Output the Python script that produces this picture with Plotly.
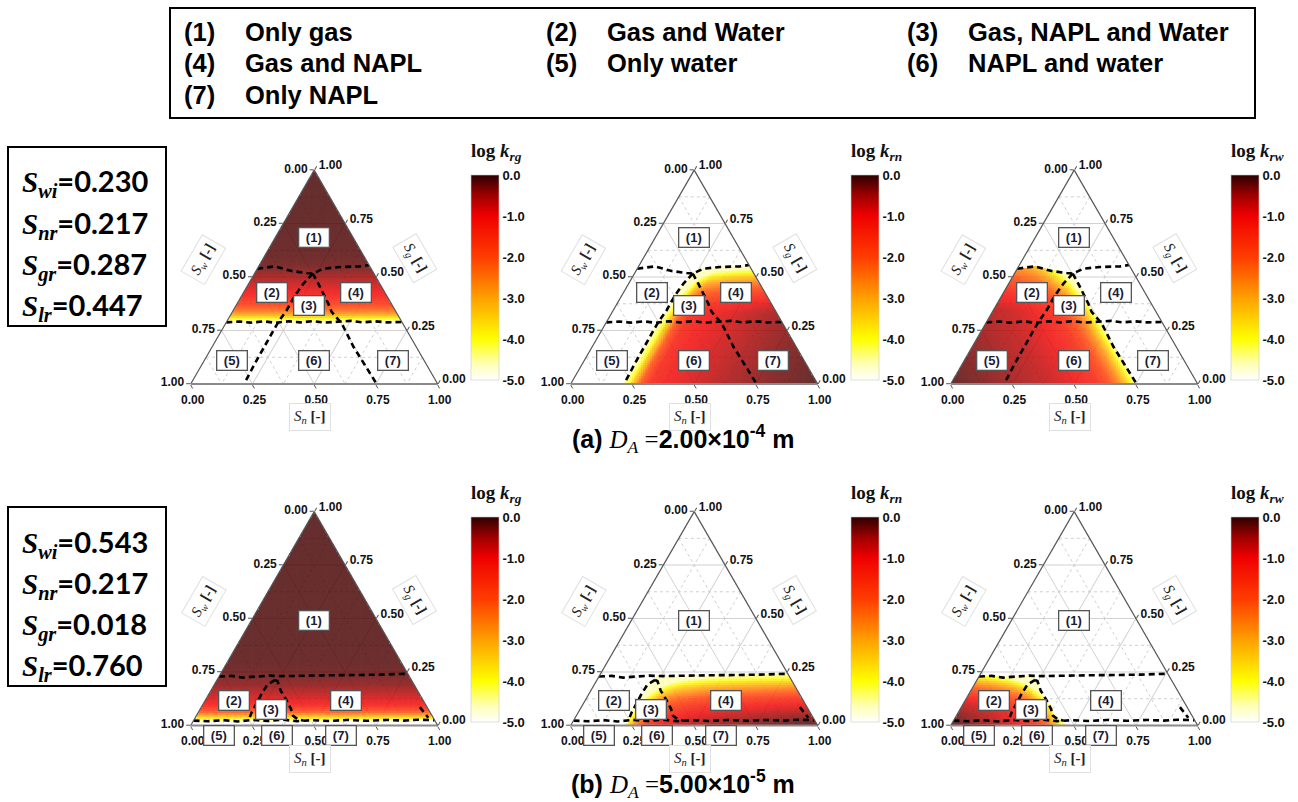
import numpy as np
import plotly.graph_objects as go

FIG_W, FIG_H = 1298, 802

# ---------------------------------------------------------------- values
SAT_NAMES = ["wi", "nr", "gr", "lr"]
SAT_A = [0.230, 0.217, 0.287, 0.447]
SAT_B = [0.543, 0.217, 0.018, 0.760]

CASE_TAGS = ["(a)", "(b)"]
DIAM_MANTISSA = ["2.00", "5.00"]
DIAM_EXPONENT = ["-4", "-5"]

REGION_TAGS = ["(1)", "(2)", "(3)", "(4)", "(5)", "(6)", "(7)"]
REGION_NAMES = ["Only gas", "Gas and Water", "Gas, NAPL and Water",
                "Gas and NAPL", "Only water", "NAPL and water", "Only NAPL"]

PHASE_SUB = ["rg", "rn", "rw"]

TICK_VALS = [0.0, 0.25, 0.5, 0.75, 1.0]
TICK_TEXT = ["1.00", "0.75", "0.50", "0.25", "0.00"]
MINOR_VALS = [0.125, 0.375, 0.625, 0.875]
CBAR_VALS = [0, -1, -2, -3, -4, -5]
CBAR_TEXT = ["0.0", "-1.0", "-2.0", "-3.0", "-4.0", "-5.0"]

# phase-region boundaries, case (a)
UPPER_A_SN = [0.0, 0.066, 0.145, 0.21, 0.236, 0.268, 0.331, 0.411, 0.444]
UPPER_A_SG = [0.539, 0.550, 0.528, 0.519, 0.516, 0.539, 0.547, 0.550, 0.556]
LOWER_A_SN = [0.0, 0.05, 0.1, 0.15, 0.2, 0.25, 0.3, 0.35, 0.4, 0.45, 0.5, 0.55, 0.6, 0.65, 0.71]
LOWER_A_SG = [0.288, 0.292, 0.287, 0.293, 0.286, 0.293, 0.288, 0.294, 0.287, 0.291, 0.295, 0.288, 0.293, 0.288, 0.290]
LEFT_A_SG = [0.516, 0.469, 0.415, 0.345, 0.290, 0.236, 0.166, 0.096, 0.0]
LEFT_A_SN = [0.236, 0.222, 0.215, 0.216, 0.210, 0.210, 0.211, 0.212, 0.216]
RIGHT_A_SG = [0.516, 0.469, 0.376, 0.337, 0.283, 0.174, 0.0]
RIGHT_A_SW = [0.248, 0.249, 0.255, 0.261, 0.247, 0.254, 0.247]

# phase-region boundaries, case (b)
UPPER_B_SN = [0.0, 0.05, 0.1, 0.15, 0.2, 0.26, 0.35, 0.45, 0.55, 0.65, 0.758]
UPPER_B_SG = [0.229, 0.232, 0.224, 0.229, 0.233, 0.231, 0.233, 0.235, 0.236, 0.238, 0.242]
LOWER_B_SN = [0.0, 0.06, 0.12, 0.18, 0.24, 0.3, 0.36, 0.42, 0.48, 0.55, 0.62, 0.7, 0.78, 0.85, 0.91, 0.975]
LOWER_B_SG = [0.023, 0.020, 0.025, 0.019, 0.026, 0.021, 0.027, 0.020, 0.025, 0.021, 0.026, 0.022, 0.026, 0.023, 0.027, 0.025]
LEFT_B_SG = [0.213, 0.191, 0.148, 0.104, 0.062, 0.023]
LEFT_B_SN = [0.235, 0.215, 0.213, 0.215, 0.216, 0.222]
RIGHT_B_SG = [0.213, 0.207, 0.163, 0.117, 0.078, 0.047, 0.030, 0.023]
RIGHT_B_SW = [0.552, 0.545, 0.554, 0.553, 0.555, 0.563, 0.553, 0.533]
EDGE_B_SN = [0.885, 0.944]
EDGE_B_SG = [0.086, 0.036]

# region tag anchors (S_n, S_g)
LABEL_A_SN = [0.158, 0.113, 0.297, 0.453, 0.110, 0.443, 0.762]
LABEL_A_SG = [0.683, 0.430, 0.365, 0.430, 0.112, 0.112, 0.112]
LABEL_B_SN = [0.253, 0.117, 0.286, 0.571, 0.139, 0.372, 0.634]
LABEL_B_SG = [0.493, 0.117, 0.076, 0.117, -0.047, -0.047, -0.047]

# log relative permeability profiles, case (a)
KRG_A_SG = [0.287, 0.295, 0.305, 0.32, 0.34, 0.37, 0.41, 0.45, 0.5, 0.55, 0.6, 0.75, 1.0]
KRG_A_LOG = [-4.8, -4.5, -4.0, -3.2, -2.5, -1.8, -1.2, -0.85, -0.5, -0.25, -0.16, -0.12, -0.1]
KRN_A_SN = [0.21, 0.23, 0.245, 0.26, 0.28, 0.32, 0.4, 0.5, 0.65, 0.8, 1.0]
KRN_A_LOG = [-4.6, -4.3, -3.6, -3.0, -2.1, -1.3, -1.0, -0.8, -0.5, -0.3, -0.1]
KRN_A_SG = [0.0, 0.33, 0.38, 0.43, 0.47, 0.5, 0.53, 0.56]
KRN_A_DLOG = [0.0, 0.0, -0.3, -0.9, -1.6, -2.4, -3.3, -4.2]
KRW_A_SW = [0.245, 0.26, 0.28, 0.31, 0.35, 0.4, 0.5, 0.6, 0.75, 0.9, 1.0]
KRW_A_LOG = [-4.6, -4.2, -3.5, -2.7, -2.0, -1.4, -0.95, -0.7, -0.45, -0.25, -0.1]
KRW_A_SG = [0.0, 0.35, 0.4, 0.45, 0.5, 0.56]
KRW_A_DLOG = [0.0, 0.0, -0.25, -0.6, -1.1, -1.7]

# log relative permeability profiles, case (b)
KRG_B_SG = [0.018, 0.025, 0.035, 0.05, 0.07, 0.1, 0.14, 0.19, 0.25, 0.3, 0.5, 1.0]
KRG_B_LOG = [-4.8, -4.4, -3.8, -2.9, -1.9, -1.1, -0.7, -0.38, -0.2, -0.14, -0.12, -0.1]
KRN_B_SN = [0.21, 0.225, 0.24, 0.26, 0.3, 0.35, 0.45, 0.6, 0.8, 1.0]
KRN_B_LOG = [-4.6, -4.0, -3.3, -2.5, -1.6, -1.1, -0.7, -0.45, -0.25, -0.1]
KRN_B_SG = [0.0, 0.03, 0.06, 0.1, 0.14, 0.18, 0.21, 0.24]
KRN_B_DLOG = [0.0, -0.1, -0.35, -0.8, -1.5, -2.4, -3.3, -4.2]
KRW_B_SW = [0.53, 0.55, 0.57, 0.6, 0.65, 0.72, 0.8, 0.9, 1.0]
KRW_B_LOG = [-4.6, -4.0, -3.2, -2.3, -1.5, -1.0, -0.65, -0.35, -0.1]
KRW_B_SG = [0.0, 0.05, 0.1, 0.14, 0.18, 0.21, 0.24]
KRW_B_DLOG = [0.0, -0.05, -0.3, -0.8, -1.6, -2.5, -3.5]

# ---------------------------------------------------------------- styling
HOT = [[0.0, "#ffffff"], [0.08, "#ffffb4"], [0.2, "#ffff00"], [0.4, "#ffa000"],
       [0.6, "#ff3c00"], [0.8, "#f00000"], [0.9, "#a00000"], [1.0, "#2d0000"]]
SANS = "Liberation Sans"
SERIF = "Liberation Serif"
TRI_W = 247.0
TRI_H = TRI_W * np.sqrt(3) / 2
COL_X0 = [190.7, 570.7, 950.7]
ROW_YB = [384.0, 725.5]
CB_TOP = [175.0, 517.0]
CB_LEN = 205
CB_DX = 280.0


def interp_sorted(x, xp, fp):
    xp = np.asarray(xp, float)
    fp = np.asarray(fp, float)
    order = np.argsort(xp)
    return np.interp(x, xp[order], fp[order])


def lattice(rows=100, cols=112):
    ii, kk = np.meshgrid(np.arange(rows), np.arange(cols), indexing="ij")
    sg = (ii + 0.5) / rows
    sn = (kk + 0.5) / cols - sg / 2
    sw = 1 - sg - sn
    keep = (sn > 0) & (sw > 0)
    return sg[keep], sn[keep], sw[keep]


SG, SN, SW = lattice()

BOUNDS = [
    dict(upper=(UPPER_A_SN, UPPER_A_SG), lower=(LOWER_A_SN, LOWER_A_SG),
         left=(LEFT_A_SG, LEFT_A_SN), right=(RIGHT_A_SG, RIGHT_A_SW), edge=None),
    dict(upper=(UPPER_B_SN, UPPER_B_SG), lower=(LOWER_B_SN, LOWER_B_SG),
         left=(LEFT_B_SG, LEFT_B_SN), right=(RIGHT_B_SG, RIGHT_B_SW),
         edge=(EDGE_B_SN, EDGE_B_SG)),
]
PROFILES = [
    [(KRG_A_SG, KRG_A_LOG), (KRN_A_SN, KRN_A_LOG, KRN_A_SG, KRN_A_DLOG),
     (KRW_A_SW, KRW_A_LOG, KRW_A_SG, KRW_A_DLOG)],
    [(KRG_B_SG, KRG_B_LOG), (KRN_B_SN, KRN_B_LOG, KRN_B_SG, KRN_B_DLOG),
     (KRW_B_SW, KRW_B_LOG, KRW_B_SG, KRW_B_DLOG)],
]
LABELS = [(LABEL_A_SN, LABEL_A_SG), (LABEL_B_SN, LABEL_B_SG)]
SATS = [SAT_A, SAT_B]


def field(row, phase):
    b = BOUNDS[row]
    p = PROFILES[row][phase]
    upper = SG < interp_sorted(SN, *b["upper"])
    if phase == 0:
        mask = SG > interp_sorted(SN, *b["lower"])
        val = interp_sorted(SG, *p)
    elif phase == 1:
        mask = (SN > interp_sorted(SG, *b["left"])) & upper
        val = interp_sorted(SN, p[0], p[1]) + interp_sorted(SG, p[2], p[3])
    else:
        mask = (SW > interp_sorted(SG, *b["right"])) & upper
        val = interp_sorted(SW, p[0], p[1]) + interp_sorted(SG, p[2], p[3])
    return mask, np.clip(val, -4.6, 0.0)


def to_paper(col, row, sn, sg):
    xpx = COL_X0[col] + (sn + sg / 2) * TRI_W
    ypx = ROW_YB[row] - sg * TRI_H
    return xpx / FIG_W, 1 - ypx / FIG_H


def boundary_line(sg, other, kind):
    sg = np.asarray(sg, float)
    other = np.asarray(other, float)
    if kind == "sn":
        sn = other
        sw = np.clip(1 - sg - sn, 0, 1)
    else:
        sw = other
        sn = np.clip(1 - sg - sw, 0, 1)
    return sg, sw, sn


def axis_cfg(line_color, line_width):
    return dict(
        tickmode="array", tickvals=TICK_VALS, ticktext=TICK_TEXT,
        ticks="outside", ticklen=4, tickcolor="#555", tickwidth=1,
        tickfont=dict(family=SANS, size=12, color="#111", weight="bold"),
        showgrid=True, gridcolor="#d2d2d2", gridwidth=1,
        showline=True, linecolor=line_color, linewidth=line_width,
        title=dict(text=""), layer="above traces", min=0,
    )


def paper_note(xpx, ypx, text, **kw):
    d = dict(x=xpx / FIG_W, y=1 - ypx / FIG_H, xref="paper", yref="paper",
             xanchor="center", yanchor="middle", showarrow=False, text=text)
    d.update(kw)
    return d


fig = go.Figure()
annotations = []
shapes = []
layout_ternaries = {}

for row in range(2):
    for col in range(3):
        idx = row * 3 + col + 1
        name = "ternary" if idx == 1 else f"ternary{idx}"
        x0 = COL_X0[col]
        yb = ROW_YB[row]
        layout_ternaries[name] = dict(
            domain=dict(x=[x0 / FIG_W, (x0 + TRI_W) / FIG_W],
                        y=[1 - yb / FIG_H, 1 - (yb - TRI_H) / FIG_H]),
            sum=1, bgcolor="white",
            aaxis=axis_cfg("#555", 1.2),
            baxis=axis_cfg("#8a8a8a", 2.0),
            caxis=axis_cfg("#555", 1.2),
        )

        # dotted minor grid
        ga, gb, gc = [], [], []
        for v in MINOR_VALS:
            ga += [v, v, None, 1 - v, 0, None, 1 - v, 0, None]
            gb += [1 - v, 0, None, v, v, None, 0, 1 - v, None]
            gc += [0, 1 - v, None, 0, 1 - v, None, v, v, None]
        fig.add_trace(go.Scatterternary(
            a=ga, b=gb, c=gc, mode="lines", subplot=name,
            line=dict(color="#cfcfcf", width=1, dash="dot"),
            hoverinfo="skip", showlegend=False))

        # relative permeability field
        mask, val = field(row, col)
        fig.add_trace(go.Scatterternary(
            a=SG[mask], b=SW[mask], c=SN[mask], mode="markers", subplot=name,
            opacity=0.82,
            marker=dict(symbol="square", size=2.9, line=dict(width=0),
                        color=val[mask], colorscale=HOT, cmin=-5, cmax=0,
                        showscale=True,
                        colorbar=dict(
                            x=(x0 + CB_DX) / FIG_W, xanchor="left", xpad=0,
                            y=1 - CB_TOP[row] / FIG_H, yanchor="top", ypad=0,
                            len=CB_LEN, lenmode="pixels",
                            thickness=28, thicknessmode="pixels",
                            tickmode="array", tickvals=CBAR_VALS, ticktext=CBAR_TEXT,
                            ticks="", ticklabelposition="outside",
                            tickfont=dict(family=SANS, size=13, color="#111", weight="bold"),
                            outlinewidth=0.6, outlinecolor="#c8c8c8")),
            hoverinfo="skip", showlegend=False))

        # dashed phase boundaries
        b = BOUNDS[row]
        lines = [
            boundary_line(b["upper"][1], b["upper"][0], "sn"),
            boundary_line(b["lower"][1], b["lower"][0], "sn"),
            boundary_line(b["left"][0], b["left"][1], "sn"),
            boundary_line(b["right"][0], b["right"][1], "sw"),
        ]
        if b["edge"] is not None:
            lines.append(boundary_line(b["edge"][1], b["edge"][0], "sn"))
        for la, lb, lc in lines:
            fig.add_trace(go.Scatterternary(
                a=la, b=lb, c=lc, mode="lines", subplot=name,
                line=dict(color="black", width=2.6, dash="6px,4px"),
                hoverinfo="skip", showlegend=False))

        # colorbar title
        annotations.append(paper_note(
            x0 + CB_DX - 2, CB_TOP[row] - 9,
            f"<b>log </b><b><i>k</i></b><sub><b><i>{PHASE_SUB[col]}</i></b></sub>",
            xanchor="left", yanchor="bottom",
            font=dict(family=SERIF, size=19, color="#111")))

        # region tags
        for tag, sn, sg in zip(REGION_TAGS, *LABELS[row]):
            px, py = to_paper(col, row, sn, sg)
            annotations.append(dict(
                x=px, y=py, xref="paper", yref="paper", text=f"<b>{tag}</b>",
                xanchor="center", yanchor="middle",
                showarrow=False, font=dict(family=SANS, size=13, color="#1c1c34"),
                bgcolor="white", bordercolor="#555", borderwidth=1.3,
                width=27, height=16, borderpad=1))

        # axis titles
        cx = x0 + TRI_W / 2
        axis_titles = [
            (x0 + 12.5, yb - 124, -60, "w"),
            (x0 + 224.0, yb - 126, 60, "g"),
            (cx - 4, yb + 33, 0, "n"),
        ]
        for tx, ty, ang, sub in axis_titles:
            annotations.append(paper_note(
                tx, ty, f"<i>S</i><sub><i>{sub}</i></sub> <b>[-]</b>", textangle=ang,
                font=dict(family=SERIF, size=15, color="#222"),
                bgcolor="rgba(0,0,0,0)", bordercolor="#e0e0e0", borderwidth=1,
                borderpad=4))

    # parameter box
    top = 147 + 360 * row
    shapes.append(dict(type="rect", xref="paper", yref="paper",
                       x0=8 / FIG_W, x1=166 / FIG_W,
                       y0=1 - (top + 179) / FIG_H, y1=1 - top / FIG_H,
                       line=dict(color="black", width=2), fillcolor="rgba(0,0,0,0)"))
    for k, (nm, v) in enumerate(zip(SAT_NAMES, SATS[row])):
        ly = top + 36 + 41.3 * k
        annotations.append(paper_note(
            20, ly,
            (f"<b><i>S</i></b><sub><b><i>{nm}</i></b></sub>"
             f"<span style=\"font-family:Lato\"><b>={v:.3f}</b></span>"),
            xanchor="left", font=dict(family=SERIF, size=29, color="black")))

    # caption
    annotations.append(paper_note(
        683, 439 + 345 * row,
        (f"<b>{CASE_TAGS[row]}</b> "
         f"<span style=\"font-family:Liberation Serif\"><i>D</i><sub><i>A</i></sub> =</span>"
         f"<b>{DIAM_MANTISSA[row]}×10</b><sup><b>{DIAM_EXPONENT[row]}</b></sup><b> m</b>"),
        font=dict(family=SANS, size=25, color="black")))

# region legend box
shapes.append(dict(type="rect", xref="paper", yref="paper",
                   x0=170 / FIG_W, x1=1255 / FIG_W, y0=1 - 118 / FIG_H, y1=1 - 8 / FIG_H,
                   line=dict(color="black", width=2), fillcolor="rgba(0,0,0,0)"))
LEG_COL_X = [182, 544, 905]
LEG_ROW_Y = [32, 63, 95]
for i, (tag, nm) in enumerate(zip(REGION_TAGS, REGION_NAMES)):
    r, c = divmod(i, 3)
    for tx, txt in ((LEG_COL_X[c], tag), (LEG_COL_X[c] + 61, nm)):
        annotations.append(paper_note(
            tx, LEG_ROW_Y[r], f"<b>{txt}</b>", xanchor="left",
            font=dict(family=SANS, size=25.5, color="black")))

fig.update_layout(
    width=FIG_W, height=FIG_H, margin=dict(l=0, r=0, t=0, b=0),
    paper_bgcolor="white", showlegend=False, hovermode=False,
    annotations=annotations, shapes=shapes, **layout_ternaries)

fig.write_html("out.html")
